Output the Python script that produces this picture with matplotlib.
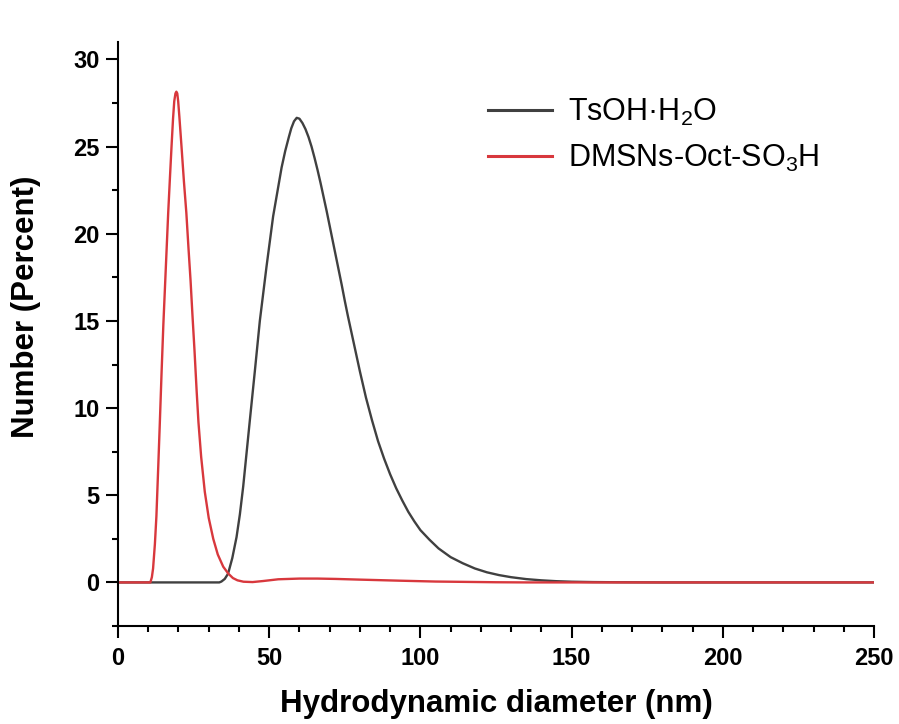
import matplotlib
matplotlib.use("Agg")
import matplotlib.pyplot as plt
from matplotlib.ticker import MultipleLocator

plt.rcParams['font.family'] = ['Liberation Sans', 'DejaVu Sans']
plt.rcParams['mathtext.fontset'] = 'custom'
plt.rcParams['mathtext.rm'] = 'Liberation Sans'
plt.rcParams['mathtext.it'] = 'Liberation Sans:italic'
plt.rcParams['mathtext.bf'] = 'Liberation Sans:bold'

# TsOH·H2O (black)
tsoh_x = [0, 33.5, 34.2, 35.3, 36.4, 37.8, 39.2, 40.3, 41.4, 42.5, 43.6, 45.3, 46.9,
          49.1, 51.3, 54.1, 55.3, 56.5, 57.3, 58.2, 59.1, 60.0, 61.0, 62.0, 63.0,
          64.0, 65.0, 66.0, 67.0, 68.0, 69.0, 70.0, 71.0, 72.0, 73.0, 74.0, 75.0,
          76.0, 77.0, 78.0, 79.0, 80.0, 82.0, 84.0, 86.0, 88.0, 90.0, 92.0, 94.0,
          96.0, 98.0, 100.0, 103.0, 106.0, 110.0, 114.0, 118.0, 122.0, 126.0, 130.0,
          135.0, 140.0, 145.0, 150.0, 157.0, 165.0, 180.0, 250.0]
tsoh_y = [0, 0, 0.05, 0.2, 0.5, 1.4, 2.6, 3.9, 5.5, 7.4, 9.3, 12.2, 15.0,
          18.1, 21.0, 23.8, 24.75, 25.55, 26.05, 26.45, 26.65, 26.6, 26.35, 26.0, 25.55,
          25.0, 24.35, 23.65, 22.9, 22.1, 21.3, 20.45, 19.6, 18.75, 17.9, 17.05, 16.15,
          15.3, 14.5, 13.7, 12.9, 12.1, 10.6, 9.3, 8.1, 7.1, 6.2, 5.4, 4.7,
          4.05, 3.5, 3.0, 2.45, 1.95, 1.45, 1.1, 0.8, 0.58, 0.42, 0.3,
          0.19, 0.12, 0.07, 0.04, 0.02, 0.01, 0, 0]

# DMSNs-Oct-SO3H (red)
dmsn_x = [0, 10.7, 11.2, 11.6, 12.2, 12.7, 13.3, 13.8, 14.4, 15.0, 15.8, 16.6, 17.2,
          17.7, 18.2, 18.6, 19.0, 19.3, 19.6, 19.9, 20.3, 21.0, 21.8, 22.6, 23.3,
          24.0, 24.6, 25.3, 26.0, 26.6, 27.5, 28.7, 30.0, 31.5, 33.0, 34.8, 36.5,
          38.0, 39.5, 41.5, 44.5, 48.0, 53.0, 60.0, 66.0, 72.0, 80.0, 93.0, 105.0,
          115.0, 125.0, 135.0, 250.0]
dmsn_y = [0, 0, 0.3, 0.8, 2.2, 3.8, 6.6, 9.0, 12.0, 14.8, 18.0, 21.2, 23.3,
          25.0, 26.6, 27.6, 28.05, 28.15, 28.05, 27.6, 26.7, 25.0, 23.0, 21.2, 19.2,
          17.3, 15.4, 13.3, 11.0, 9.2, 7.2, 5.2, 3.7, 2.5, 1.6, 0.9, 0.5,
          0.25, 0.12, 0.04, 0.02, 0.08, 0.18, 0.22, 0.22, 0.2, 0.16, 0.1, 0.05,
          0.03, 0.01, 0, 0]

labels = ['TsOH·H$\\mathregular{_2}$O', 'DMSNs-Oct-SO$\\mathregular{_3}$H']
colors = ['#404040', '#d8383d']

fig = plt.figure(figsize=(8.99, 7.24), dpi=100)
ax = fig.add_axes([118/899, 1 - 626/724, (874 - 118)/899, (626 - 42)/724])

ax.plot(tsoh_x, tsoh_y, color=colors[0], lw=1.7, label=labels[0])
ax.plot(dmsn_x, dmsn_y, color=colors[1], lw=1.7, label=labels[1])

ax.set_xlim(0, 250)
ax.set_ylim(-2.5, 31)
ax.xaxis.set_major_locator(MultipleLocator(50))
ax.xaxis.set_minor_locator(MultipleLocator(10))
ax.yaxis.set_major_locator(MultipleLocator(5))
ax.yaxis.set_minor_locator(MultipleLocator(2.5))

for s in ['top', 'right']:
    ax.spines[s].set_visible(False)
for s in ['left', 'bottom']:
    ax.spines[s].set_linewidth(1.5)

ax.tick_params(which='major', direction='out', length=8.4, width=1.5, labelsize=17)
ax.tick_params(axis='x', which='major', pad=7)
ax.tick_params(axis='y', which='major', pad=5)
ax.tick_params(which='minor', direction='out', length=4, width=1.5)
for lab in ax.get_xticklabels() + ax.get_yticklabels():
    lab.set_fontweight('bold')

ax.set_xlabel('Hydrodynamic diameter (nm)', fontsize=22.5, fontweight='bold', va='top')
ax.xaxis.set_label_coords(0.5, -0.108)
ax.set_ylabel('Number (Percent)', fontsize=22.5, fontweight='bold', va='center')
ax.yaxis.set_label_coords(-0.122, 0.546)

leg = ax.legend(loc='upper left', bbox_to_anchor=(460/899, 1 - 69/724),
                bbox_transform=fig.transFigure, frameon=False, fontsize=22,
                handlelength=2.1, handletextpad=0.55, labelspacing=0.5)
for line in leg.get_lines():
    line.set_linewidth(2.2)

fig.savefig('out.png', dpi=100)
